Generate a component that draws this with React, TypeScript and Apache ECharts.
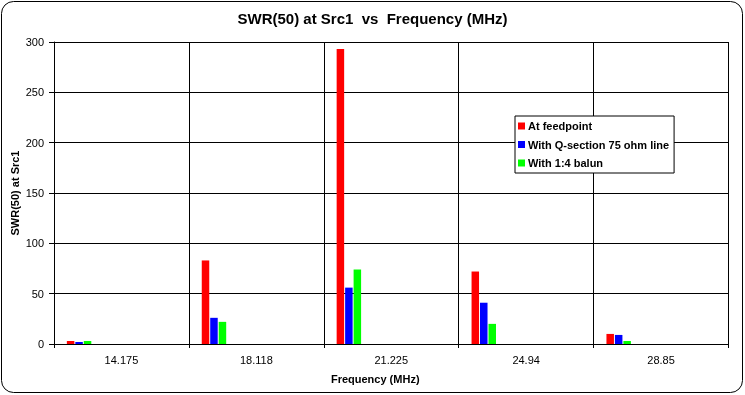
import React, { useEffect, useRef } from "react";
import * as echarts from "echarts";

const categories = ["14.175", "18.118", "21.225", "24.94", "28.85"];
const atFeedpoint = [3, 83, 293, 72, 10];
const withQSection = [2, 26, 56, 41, 9];
const withBalun = [3, 22, 74, 20, 3];
const seriesNames = ["At feedpoint", "With Q-section 75 ohm line", "With 1:4 balun"];
const seriesColors = ["#FF0000", "#0000FF", "#00FF00"];
const yTicks = { min: 0, max: 300, interval: 50 };
// Excel reserved slots for 13 series per category; only 3 carry data.
const fillerSlots = 10;

const FONT = "'Liberation Sans', Arial, sans-serif";

export default function App() {
  const ref = useRef<HTMLDivElement>(null);
  useEffect(() => {
    if (!ref.current) return;
    const chart = echarts.init(ref.current, null, { renderer: "svg" });
    const values = [atFeedpoint, withQSection, withBalun];
    const realSeries = values.map((d, i) => ({
      name: seriesNames[i],
      type: "bar",
      data: d,
      barWidth: 7.5,
      barGap: "13%",
      itemStyle: { color: seriesColors[i] },
      z: 3,
    }));
    const fillers = Array.from({ length: fillerSlots }, (_, i) => ({
      name: "filler" + i,
      type: "bar",
      data: [],
      barWidth: 7.5,
      barGap: "13%",
    }));
    chart.setOption({
      animation: false,
      backgroundColor: "transparent",
      textStyle: { fontFamily: FONT },
      graphic: {
        elements: [
          {
            type: "rect",
            z: -100,
            shape: { x: 1.5, y: 1.5, width: 741, height: 391, r: 12 },
            style: { fill: "#FFFFFF", stroke: "#000000", lineWidth: 1 },
            silent: true,
          },
        ],
      },
      title: {
        text: "SWR(50) at Src1  vs  Frequency (MHz)",
        left: "center",
        top: 6,
        textStyle: { fontFamily: FONT, fontWeight: "bold", fontSize: 15, color: "#000" },
      },
      legend: {
        data: seriesNames,
        orient: "vertical",
        left: 515,
        top: 116,
        icon: "rect",
        itemWidth: 7,
        itemHeight: 7,
        itemGap: 6.5,
        padding: [4, 5, 4, 3],
        backgroundColor: "#FFFFFF",
        borderColor: "#000000",
        borderWidth: 1,
        borderRadius: 0,
        textStyle: {
          fontFamily: FONT,
          fontWeight: "bold",
          fontSize: 11,
          color: "#000",
          lineHeight: 12,
          padding: [0, 0, 0, -2],
        },
        z: 10,
      },
      grid: {
        left: 54,
        right: 16.5,
        top: 42,
        bottom: 51,
        containLabel: false,
        outerBoundsMode: "none",
      },
      xAxis: {
        type: "category",
        data: categories,
        boundaryGap: true,
        name: "Frequency (MHz)",
        nameLocation: "middle",
        nameGap: 29,
        nameMoveOverlap: false,
        nameTextStyle: {
          fontFamily: FONT,
          fontWeight: "bold",
          fontSize: 11,
          color: "#000",
          padding: [0, 32, 0, 0],
        },
        axisLine: { show: true, lineStyle: { color: "#000", width: 1 } },
        axisTick: { show: true, length: 4, lineStyle: { color: "#000" } },
        axisLabel: { fontFamily: FONT, fontSize: 11, color: "#000", margin: 10 },
        splitLine: { show: true, lineStyle: { color: "#000", width: 1 } },
      },
      yAxis: [
        {
          type: "value",
          min: yTicks.min,
          max: yTicks.max,
          interval: yTicks.interval,
          name: "SWR(50) at Src1",
          nameLocation: "middle",
          nameGap: 34,
          nameMoveOverlap: false,
          nameTextStyle: { fontFamily: FONT, fontWeight: "bold", fontSize: 11, color: "#000" },
          axisLine: { show: true, lineStyle: { color: "#000", width: 1 } },
          axisTick: { show: true, length: 5, lineStyle: { color: "#000" } },
          axisLabel: { fontFamily: FONT, fontSize: 11, color: "#000", margin: 10 },
          splitLine: { show: true, lineStyle: { color: "#000", width: 1 } },
        },
        {
          type: "value",
          min: yTicks.min,
          max: yTicks.max,
          interval: yTicks.interval,
          position: "left",
          axisLine: { show: false },
          axisTick: { show: true, inside: true, length: 4, lineStyle: { color: "#000" } },
          axisLabel: { show: false },
          splitLine: { show: false },
        },
      ],
      series: [...realSeries, ...fillers],
    });
    return () => chart.dispose();
  }, []);
  return (
    <div
      ref={ref}
      style={{ position: "fixed", left: 0, top: 0, width: 745, height: 395 }}
    />
  );
}
